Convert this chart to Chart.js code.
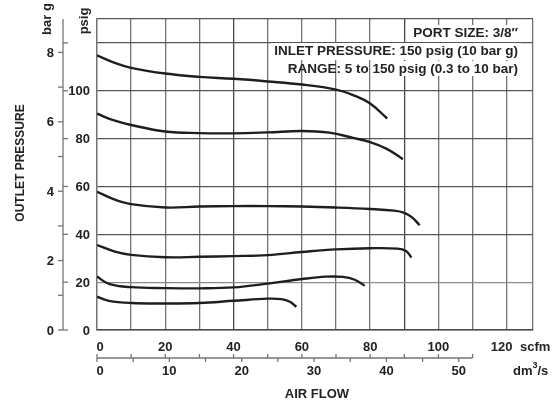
<!DOCTYPE html>
<html>
<head>
<meta charset="utf-8">
<script src="https://cdn.jsdelivr.net/npm/chart.js@4.4.0/dist/chart.umd.min.js"></script>
<style>
  body { margin: 0; background: #fff; }
  canvas { display: block; }
</style>
</head>
<body>
<canvas id="flowChart" width="559" height="403"></canvas>
<script>
// air flow (scfm) and outlet pressure (psig)
const flow1 = [0, 5, 10, 20, 30, 40, 50, 60, 70, 75, 80, 85];
const pres1 = [114.8, 111.8, 109.6, 107.2, 105.8, 105.0, 103.9, 102.6, 100.5, 98.2, 94.7, 88.4];
const flow2 = [0, 5, 10, 20, 30, 40, 50, 60, 68, 75, 80, 85, 89.6];
const pres2 = [90.4, 87.6, 85.7, 83.0, 82.3, 82.2, 82.6, 83.2, 82.5, 80.3, 78.5, 75.6, 71.4];
const flow3 = [0, 5, 10, 20, 30, 40, 50, 60, 70, 80, 87, 90, 92.2, 94.5];
const pres3 = [57.8, 54.6, 52.6, 51.2, 51.6, 51.8, 51.8, 51.6, 51.2, 50.6, 49.9, 49.0, 47.2, 43.8];
const flow4 = [0, 5, 10, 20, 30, 40, 50, 60, 70, 80, 88, 90.5, 92.1];
const pres4 = [35.5, 32.9, 31.4, 30.4, 30.6, 30.9, 31.3, 32.6, 33.7, 34.2, 34.0, 33.0, 30.3];
const flow5 = [0, 3.5, 10, 20, 30, 40, 50, 60, 67, 72, 75.5, 78.4];
const pres5 = [22.3, 19.3, 17.9, 17.5, 17.4, 17.8, 19.4, 21.3, 22.3, 22.2, 21.0, 18.5];
const flow6 = [0, 3.5, 10, 20, 30, 40, 50, 54, 56.5, 58.4];
const pres6 = [13.9, 12.2, 11.3, 11.1, 11.3, 12.2, 13.1, 12.9, 11.8, 9.7];

// tick labels
const scfmTicks = [0, 20, 40, 60, 80, 100, 120];
const dm3Ticks = [0, 10, 20, 30, 40, 50];
const psigTicks = [0, 20, 40, 60, 80, 100];
const barTicks = [0, 2, 4, 6, 8];

const notes = [
    'PORT SIZE: 3/8\u2033',
    'INLET PRESSURE: 150 psig (10 bar g)',
    'RANGE: 5 to 150 psig (0.3 to 10 bar)'
];

const PSI_PER_BAR = 14.5038;
const SCFM_PER_DM3S = 2.11888;
const X_MAX = 127.7;
const Y_MAX = 130;

const FONT = 'bold 13px "Liberation Sans", Arial, Helvetica, sans-serif';
const NOTE_FONT = 'bold 13.5px "Liberation Sans", Arial, Helvetica, sans-serif';
const GRID = '#737373';

function pts(xs, ys) {
    return xs.map((x, i) => ({ x: x, y: ys[i] }));
}

function steps(from, to, step, last) {
    const out = [];
    for (let v = from; v <= to; v += step) out.push({ value: v });
    out.push({ value: last });
    return out;
}

const curves = [[flow1, pres1], [flow2, pres2], [flow3, pres3], [flow4, pres4], [flow5, pres5], [flow6, pres6]];

// extra axes, labels and notes drawn with the chart's own scales
const extras = {
    id: 'extras',
    afterDraw(chart) {
        const ctx = chart.ctx;
        const xs = chart.scales.x;
        const ys = chart.scales.y;
        const area = chart.chartArea;
        ctx.save();
        ctx.strokeStyle = GRID;
        ctx.fillStyle = '#222';
        ctx.lineWidth = 1.3;
        ctx.font = FONT;

        // bar g / psig axis line
        const ax = 63;
        ctx.beginPath();
        ctx.moveTo(ax, area.top);
        ctx.lineTo(ax, area.bottom);
        ctx.stroke();

        // bar ticks on left, every 1 bar
        ctx.textAlign = 'right';
        ctx.textBaseline = 'middle';
        for (let b = 0; b <= 8; b++) {
            const py = ys.getPixelForValue(b * PSI_PER_BAR);
            ctx.beginPath();
            ctx.moveTo(ax - 5, py);
            ctx.lineTo(ax, py);
            ctx.stroke();
        }
        barTicks.forEach(b => {
            ctx.fillText(String(b), 54, ys.getPixelForValue(b * PSI_PER_BAR) + 1);
        });

        // psig ticks on right of the line
        for (let p = 0; p <= 120; p += 20) {
            const py = ys.getPixelForValue(p);
            ctx.beginPath();
            ctx.moveTo(ax, py);
            ctx.lineTo(ax + 5, py);
            ctx.stroke();
        }
        psigTicks.forEach(p => {
            ctx.fillText(String(p), 90, ys.getPixelForValue(p) + 1);
        });

        // rotated unit and axis titles
        function vtext(t, x, y, font) {
            ctx.save();
            ctx.translate(x, y);
            ctx.rotate(-Math.PI / 2);
            ctx.textAlign = 'center';
            ctx.textBaseline = 'middle';
            ctx.font = font || FONT;
            ctx.fillText(t, 0, 0);
            ctx.restore();
        }
        vtext('bar g', 47, 19);
        vtext('psig', 84, 21);
        vtext('OUTLET PRESSURE', 21, 163, 'bold 12px "Liberation Sans", Arial, sans-serif');

        // scfm labels under the plot
        ctx.textAlign = 'center';
        ctx.textBaseline = 'middle';
        scfmTicks.forEach(s => {
            let px = xs.getPixelForValue(s);
            if (s === 0) px += 3;
            if (s === 120) px -= 5;
            ctx.fillText(String(s), px, 347);
        });
        ctx.textAlign = 'left';
        ctx.fillText('scfm', 520, 347);

        // dm3/s axis
        const ay = 358;
        const endX = xs.getPixelForValue(110);
        ctx.beginPath();
        ctx.moveTo(area.left, ay);
        ctx.lineTo(endX, ay);
        ctx.stroke();
        for (let s = 0; s <= 110; s += 10) {
            const px = xs.getPixelForValue(s);
            ctx.beginPath();
            ctx.moveTo(px, ay - 4);
            ctx.lineTo(px, ay);
            ctx.stroke();
        }
        for (let d = 0; d <= 50; d += 5) {
            const px = xs.getPixelForValue(d * SCFM_PER_DM3S);
            ctx.beginPath();
            ctx.moveTo(px, ay);
            ctx.lineTo(px, ay + 4);
            ctx.stroke();
        }
        ctx.textAlign = 'center';
        dm3Ticks.forEach(d => {
            let px = xs.getPixelForValue(d * SCFM_PER_DM3S);
            if (d === 0) px += 3;
            ctx.fillText(String(d), px, 371);
        });
        ctx.textAlign = 'left';
        ctx.fillText('dm', 513, 371);
        const w = ctx.measureText('dm').width;
        ctx.font = 'bold 9px "Liberation Sans", Arial, sans-serif';
        ctx.fillText('3', 513 + w, 366);
        const w3 = ctx.measureText('3').width;
        ctx.font = FONT;
        ctx.fillText('/s', 513 + w + w3, 371);

        ctx.textAlign = 'center';
        ctx.fillText('AIR FLOW', 317, 394);

        // notes box in upper right
        ctx.font = NOTE_FONT;
        ctx.textAlign = 'right';
        ctx.textBaseline = 'alphabetic';
        const rx = 518;
        const base = [37, 55, 73];
        notes.forEach((t, i) => {
            const tw = ctx.measureText(t).width;
            ctx.fillStyle = '#fff';
            if (i < 2) {
                ctx.fillRect(rx - tw - 3, base[i] - 12, tw + 6, 17);
            } else {
                ctx.fillRect(374, base[i] - 12, rx + 3 - 374, 15);
            }
            ctx.fillStyle = '#222';
            ctx.fillText(t, rx, base[i]);
        });
        ctx.restore();
    }
};

new Chart(document.getElementById('flowChart'), {
    type: 'line',
    data: {
        datasets: curves.map(c => ({
            data: pts(c[0], c[1]),
            borderColor: '#1e1e1e',
            borderWidth: 2.4,
            pointRadius: 0,
            fill: false,
            tension: 0.4
        }))
    },
    options: {
        responsive: false,
        animation: false,
        layout: { padding: { left: 97, top: 19, right: 26, bottom: 73 } },
        plugins: { legend: { display: false }, tooltip: { enabled: false } },
        scales: {
            x: {
                type: 'linear',
                min: 0,
                max: X_MAX,
                afterFit(s) { s.height = 0; },
                afterBuildTicks(s) { s.ticks = steps(0, 120, 10, X_MAX); },
                ticks: { display: false },
                grid: {
                    color: c => (c.tick.value === 40 || c.tick.value === 90) ? '#474747' : GRID,
                    lineWidth: 1.3,
                    drawTicks: false
                },
                border: { color: '#4a4a4a', width: 1.4 }
            },
            y: {
                min: 0,
                max: Y_MAX,
                afterFit(s) { s.width = 0; },
                afterBuildTicks(s) { s.ticks = steps(0, 120, 20, Y_MAX); },
                ticks: { display: false },
                grid: {
                    color: c => c.tick.value === 20 ? '#8a8a8a' : '#555',
                    lineWidth: 1.3,
                    drawTicks: false
                },
                border: { color: GRID, width: 1.3 }
            }
        }
    },
    plugins: [extras]
});
</script>
</body>
</html>
